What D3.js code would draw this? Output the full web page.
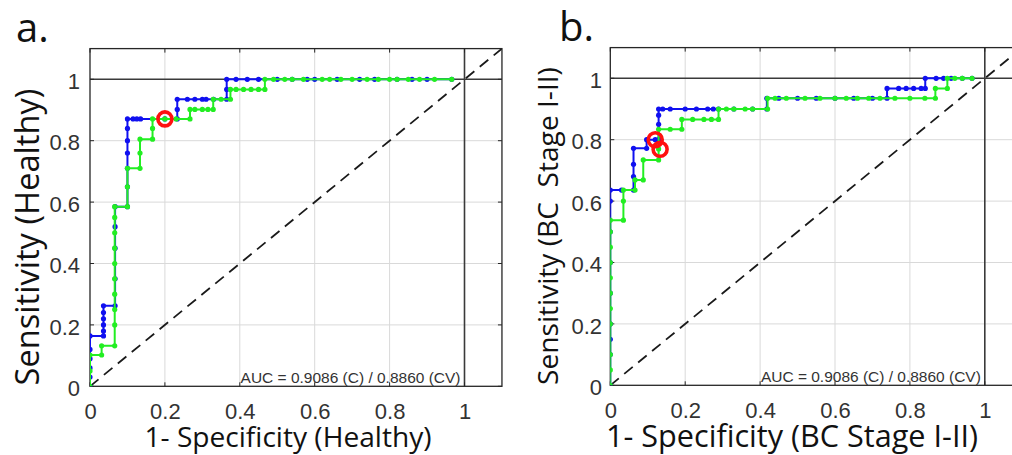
<!DOCTYPE html>
<html><head><meta charset="utf-8">
<script src="https://cdn.jsdelivr.net/npm/d3@7"></script>
<style>html,body{margin:0;padding:0;background:#fff;}svg{display:block;}</style>
</head><body>
<script>
// ---------- data ----------
const tickValues = [0, 0.2, 0.4, 0.6, 0.8, 1];
const tickLabels = ["0", "0.2", "0.4", "0.6", "0.8", "1"];
const panelLetters = ["a.", "b."];
const yLabels = ["Sensitivity (Healthy)", "Sensitivity (BC  Stage I-II)"];
const xLabels = ["1- Specificity (Healthy)", "1- Specificity (BC Stage I-II)"];
const aucText = "AUC = 0.9086 (C) / 0.8860 (CV)";

// panel a: [1-specificity, sensitivity]
const aBlue = [[0,0],[0,0.03],[0,0.06],[0,0.09],[0,0.12],[0,0.164],[0.036,0.164],[0.036,0.18],[0.036,0.2],[0.036,0.22],[0.036,0.24],[0.036,0.262],[0.067,0.262],[0.067,0.35],[0.067,0.45],[0.067,0.52],[0.067,0.585],[0.1,0.585],[0.1,0.65],[0.1,0.71],[0.1,0.76],[0.1,0.8],[0.1,0.84],[0.1,0.871],[0.115,0.871],[0.125,0.871],[0.135,0.871],[0.2,0.871],[0.233,0.871],[0.233,0.902],[0.233,0.935],[0.26,0.935],[0.28,0.935],[0.3,0.935],[0.31,0.935],[0.33,0.935],[0.365,0.935],[0.365,0.967],[0.365,1],[0.39,1],[0.42,1],[0.45,1],[0.5,1],[0.54,1],[0.58,1],[0.6,1],[0.66,1],[0.72,1],[0.76,1],[0.82,1],[0.86,1],[0.9,1],[0.966,1]];
const aGreen = [[0,0],[0,0.05],[0,0.102],[0.031,0.102],[0.031,0.132],[0.066,0.132],[0.066,0.2],[0.066,0.25],[0.066,0.3],[0.066,0.35],[0.066,0.4],[0.066,0.45],[0.066,0.5],[0.066,0.55],[0.066,0.585],[0.1,0.585],[0.1,0.65],[0.1,0.71],[0.1335,0.71],[0.1335,0.76],[0.1335,0.805],[0.167,0.805],[0.167,0.84],[0.167,0.871],[0.2,0.871],[0.23,0.871],[0.267,0.871],[0.267,0.902],[0.28,0.902],[0.3,0.902],[0.315,0.902],[0.329,0.902],[0.329,0.935],[0.35,0.935],[0.375,0.935],[0.375,0.967],[0.39,0.967],[0.41,0.967],[0.43,0.967],[0.45,0.967],[0.467,0.967],[0.467,1],[0.49,1],[0.52,1],[0.54,1],[0.57,1],[0.62,1],[0.64,1],[0.67,1],[0.7,1],[0.74,1],[0.77,1],[0.8,1],[0.82,1],[0.85,1],[0.88,1],[0.92,1],[0.966,1]];
const aOpt = [[0.2,0.871]];

// panel b
const bBlue = [[0,0],[0,0.1],[0,0.15],[0,0.2],[0,0.3],[0,0.4],[0,0.5],[0,0.6],[0,0.636],[0.03,0.636],[0.062,0.636],[0.062,0.68],[0.062,0.72],[0.062,0.772],[0.097,0.772],[0.097,0.8],[0.12,0.8],[0.129,0.8],[0.129,0.85],[0.129,0.88],[0.129,0.9],[0.14,0.9],[0.16,0.9],[0.2,0.9],[0.23,0.9],[0.26,0.9],[0.275,0.9],[0.289,0.9],[0.33,0.9],[0.38,0.9],[0.418,0.9],[0.418,0.935],[0.45,0.935],[0.5,0.935],[0.55,0.935],[0.6,0.935],[0.65,0.935],[0.7,0.935],[0.739,0.935],[0.739,0.967],[0.77,0.967],[0.79,0.967],[0.81,0.967],[0.83,0.967],[0.841,0.967],[0.841,1],[0.87,1],[0.89,1],[0.91,1],[0.94,1],[0.966,1]];
const bGreen = [[0,0],[0,0.05],[0,0.1],[0,0.2],[0,0.25],[0,0.3],[0,0.35],[0,0.4],[0,0.45],[0,0.5],[0,0.538],[0.035,0.538],[0.035,0.6],[0.035,0.636],[0.066,0.636],[0.066,0.669],[0.088,0.669],[0.088,0.734],[0.129,0.734],[0.129,0.77],[0.129,0.834],[0.16,0.834],[0.191,0.834],[0.191,0.866],[0.22,0.866],[0.25,0.866],[0.27,0.866],[0.289,0.866],[0.289,0.9],[0.31,0.9],[0.33,0.9],[0.36,0.9],[0.38,0.9],[0.42,0.9],[0.42,0.935],[0.44,0.935],[0.47,0.935],[0.52,0.935],[0.56,0.935],[0.6,0.935],[0.63,0.935],[0.66,0.935],[0.69,0.935],[0.72,0.935],[0.76,0.935],[0.8,0.935],[0.84,0.935],[0.868,0.935],[0.868,0.967],[0.9,0.967],[0.9,1],[0.92,1],[0.94,1],[0.966,1]];
const bOpt = [[0.12,0.8],[0.133,0.769]];

// ---------- layout ----------
const W = 1012, H = 455;
const svg = d3.select("body").append("svg").attr("width", W).attr("height", H);

const panels = [
  {left: 90, bottom: 386.3, blue: aBlue, green: aGreen, opt: aOpt, letterX: 16, letterY: 42, yLabX: 28, yLabY: 237, yLabW: 297, xLabX: 288, xLabW: 287, yTickRight: 80},
  {left: 610.3, bottom: 385.3, blue: bBlue, green: bGreen, opt: bOpt, letterX: 559, letterY: 41, yLabX: 548, yLabY: 226, yLabW: 318, xLabX: 792, xLabW: 372, yTickRight: 602}
];
const unitX = 374.5, unitY = 307;

function fit(t, w) {
  const cur = t.node().getComputedTextLength();
  const fs = parseFloat(t.attr("font-size"));
  t.attr("font-size", (fs * w / cur).toFixed(2));
}

panels.forEach((p, i) => {
  const x = d3.scaleLinear().domain([0, 1.1]).range([p.left, p.left + 1.1 * unitX]);
  const y = d3.scaleLinear().domain([0, 1.1]).range([p.bottom, p.bottom - 1.1 * unitY]);
  const g = svg.append("g");
  const clipId = "clip" + i;
  svg.append("clipPath").attr("id", clipId).append("rect")
    .attr("x", x(0)).attr("y", y(1.1)).attr("width", x(1.1) - x(0)).attr("height", y(0) - y(1.1));

  // grid
  const grid = g.append("g").attr("clip-path", `url(#${clipId})`);
  grid.selectAll("line.gx").data(tickValues.filter(v => v > 0 && v < 1)).join("line")
    .attr("x1", d => x(d)).attr("x2", d => x(d)).attr("y1", y(0)).attr("y2", y(1.1))
    .attr("stroke", "#d9d9d9").attr("stroke-width", 1);
  grid.selectAll("line.gy").data(tickValues.filter(v => v > 0 && v < 1)).join("line")
    .attr("class", "gy")
    .attr("y1", d => y(d)).attr("y2", d => y(d)).attr("x1", x(0)).attr("x2", x(1.1))
    .attr("stroke", "#d9d9d9").attr("stroke-width", 1);

  // reference lines at 1
  grid.append("line").attr("x1", x(0)).attr("x2", x(1.1)).attr("y1", y(1)).attr("y2", y(1))
    .attr("stroke", "#3a3a3a").attr("stroke-width", 1.6);
  grid.append("line").attr("x1", x(1)).attr("x2", x(1)).attr("y1", y(0)).attr("y2", y(1.1))
    .attr("stroke", "#3a3a3a").attr("stroke-width", 1.6);

  // diagonal
  grid.append("line").attr("x1", x(0)).attr("y1", y(0)).attr("x2", x(1.1)).attr("y2", y(1.1))
    .attr("stroke", "#1a1a1a").attr("stroke-width", 1.8).attr("stroke-dasharray", "11,7");

  // frame
  g.append("rect").attr("x", x(0)).attr("y", y(1.1)).attr("width", x(1.1) - x(0)).attr("height", y(0) - y(1.1))
    .attr("fill", "none").attr("stroke", "#262626").attr("stroke-width", 1.3);

  // inward ticks
  const tk = g.append("g").attr("stroke", "#262626").attr("stroke-width", 1);
  tickValues.forEach(v => {
    tk.append("line").attr("x1", x(v)).attr("x2", x(v)).attr("y1", y(0)).attr("y2", y(0) - 4);
    tk.append("line").attr("x1", x(v)).attr("x2", x(v)).attr("y1", y(1.1)).attr("y2", y(1.1) + 4);
    tk.append("line").attr("y1", y(v)).attr("y2", y(v)).attr("x1", x(0)).attr("x2", x(0) + 4);
    tk.append("line").attr("y1", y(v)).attr("y2", y(v)).attr("x1", x(1.1)).attr("x2", x(1.1) - 4);
  });

  // curves
  const line = d3.line().x(d => x(d[0])).y(d => y(d[1]));
  const curves = g.append("g").attr("clip-path", `url(#${clipId})`);
  [[p.blue, "#1010f0"], [p.green, "#22ee22"]].forEach(([data, col]) => {
    curves.append("path").datum(data).attr("d", line).attr("fill", "none")
      .attr("stroke", col).attr("stroke-width", 2);
    curves.append("g").selectAll("circle").data(data).join("circle")
      .attr("cx", d => x(d[0])).attr("cy", d => y(d[1])).attr("r", 2.6).attr("fill", col);
  });
  curves.selectAll("circle.opt").data(p.opt).join("circle").attr("class", "opt")
    .attr("cx", d => x(d[0])).attr("cy", d => y(d[1])).attr("r", 7)
    .attr("fill", "none").attr("stroke", "#ff1010").attr("stroke-width", 3.6);

  // tick labels via axes
  const xAxis = d3.axisBottom(x).tickValues(tickValues).tickSize(0).tickPadding(0)
    .tickFormat((d, k) => tickLabels[k]);
  const xa = g.append("g").attr("transform", `translate(0,${y(0) + 33})`).call(xAxis);
  xa.select(".domain").remove();
  xa.selectAll("text").attr("font-family", "'Liberation Sans', Arial, sans-serif").attr("font-size", 22)
    .attr("fill", "#333").attr("dy", 0);
  const yAxis = d3.axisLeft(y).tickValues(tickValues).tickSize(0).tickPadding(0)
    .tickFormat((d, k) => tickLabels[k]);
  const ya = g.append("g").attr("transform", `translate(${p.yTickRight},0)`).call(yAxis);
  ya.select(".domain").remove();
  ya.selectAll("text").attr("font-family", "'Liberation Sans', Arial, sans-serif").attr("font-size", 22)
    .attr("fill", "#333").attr("dy", "0.42em");

  // AUC
  const auc = g.append("text").attr("x", x(1) - 4).attr("y", y(0) - 3).attr("text-anchor", "end")
    .attr("font-family", "'Liberation Sans', Arial, sans-serif").attr("font-size", 13).attr("fill", "#333")
    .text(aucText);
  fit(auc, 220);

  // axis labels
  const xl = svg.append("text").attr("x", p.xLabX).attr("y", 447).attr("text-anchor", "middle")
    .attr("font-family", "'Open Sans', sans-serif").attr("font-size", 24).attr("fill", "#111")
    .style("white-space", "pre").text(xLabels[i]);
  fit(xl, p.xLabW);
  const yl = svg.append("text").attr("transform", `translate(${p.yLabX},${p.yLabY}) rotate(-90)`)
    .attr("text-anchor", "middle").attr("dy", "0.35em")
    .attr("font-family", "'Open Sans', sans-serif").attr("font-size", 24).attr("fill", "#111")
    .style("white-space", "pre").text(yLabels[i]);
  fit(yl, p.yLabW);

  svg.append("text").attr("x", p.letterX).attr("y", p.letterY)
    .attr("font-family", "'Open Sans', sans-serif").attr("font-size", 40).attr("fill", "#111")
    .text(panelLetters[i]);
});
</script>
</body></html>
